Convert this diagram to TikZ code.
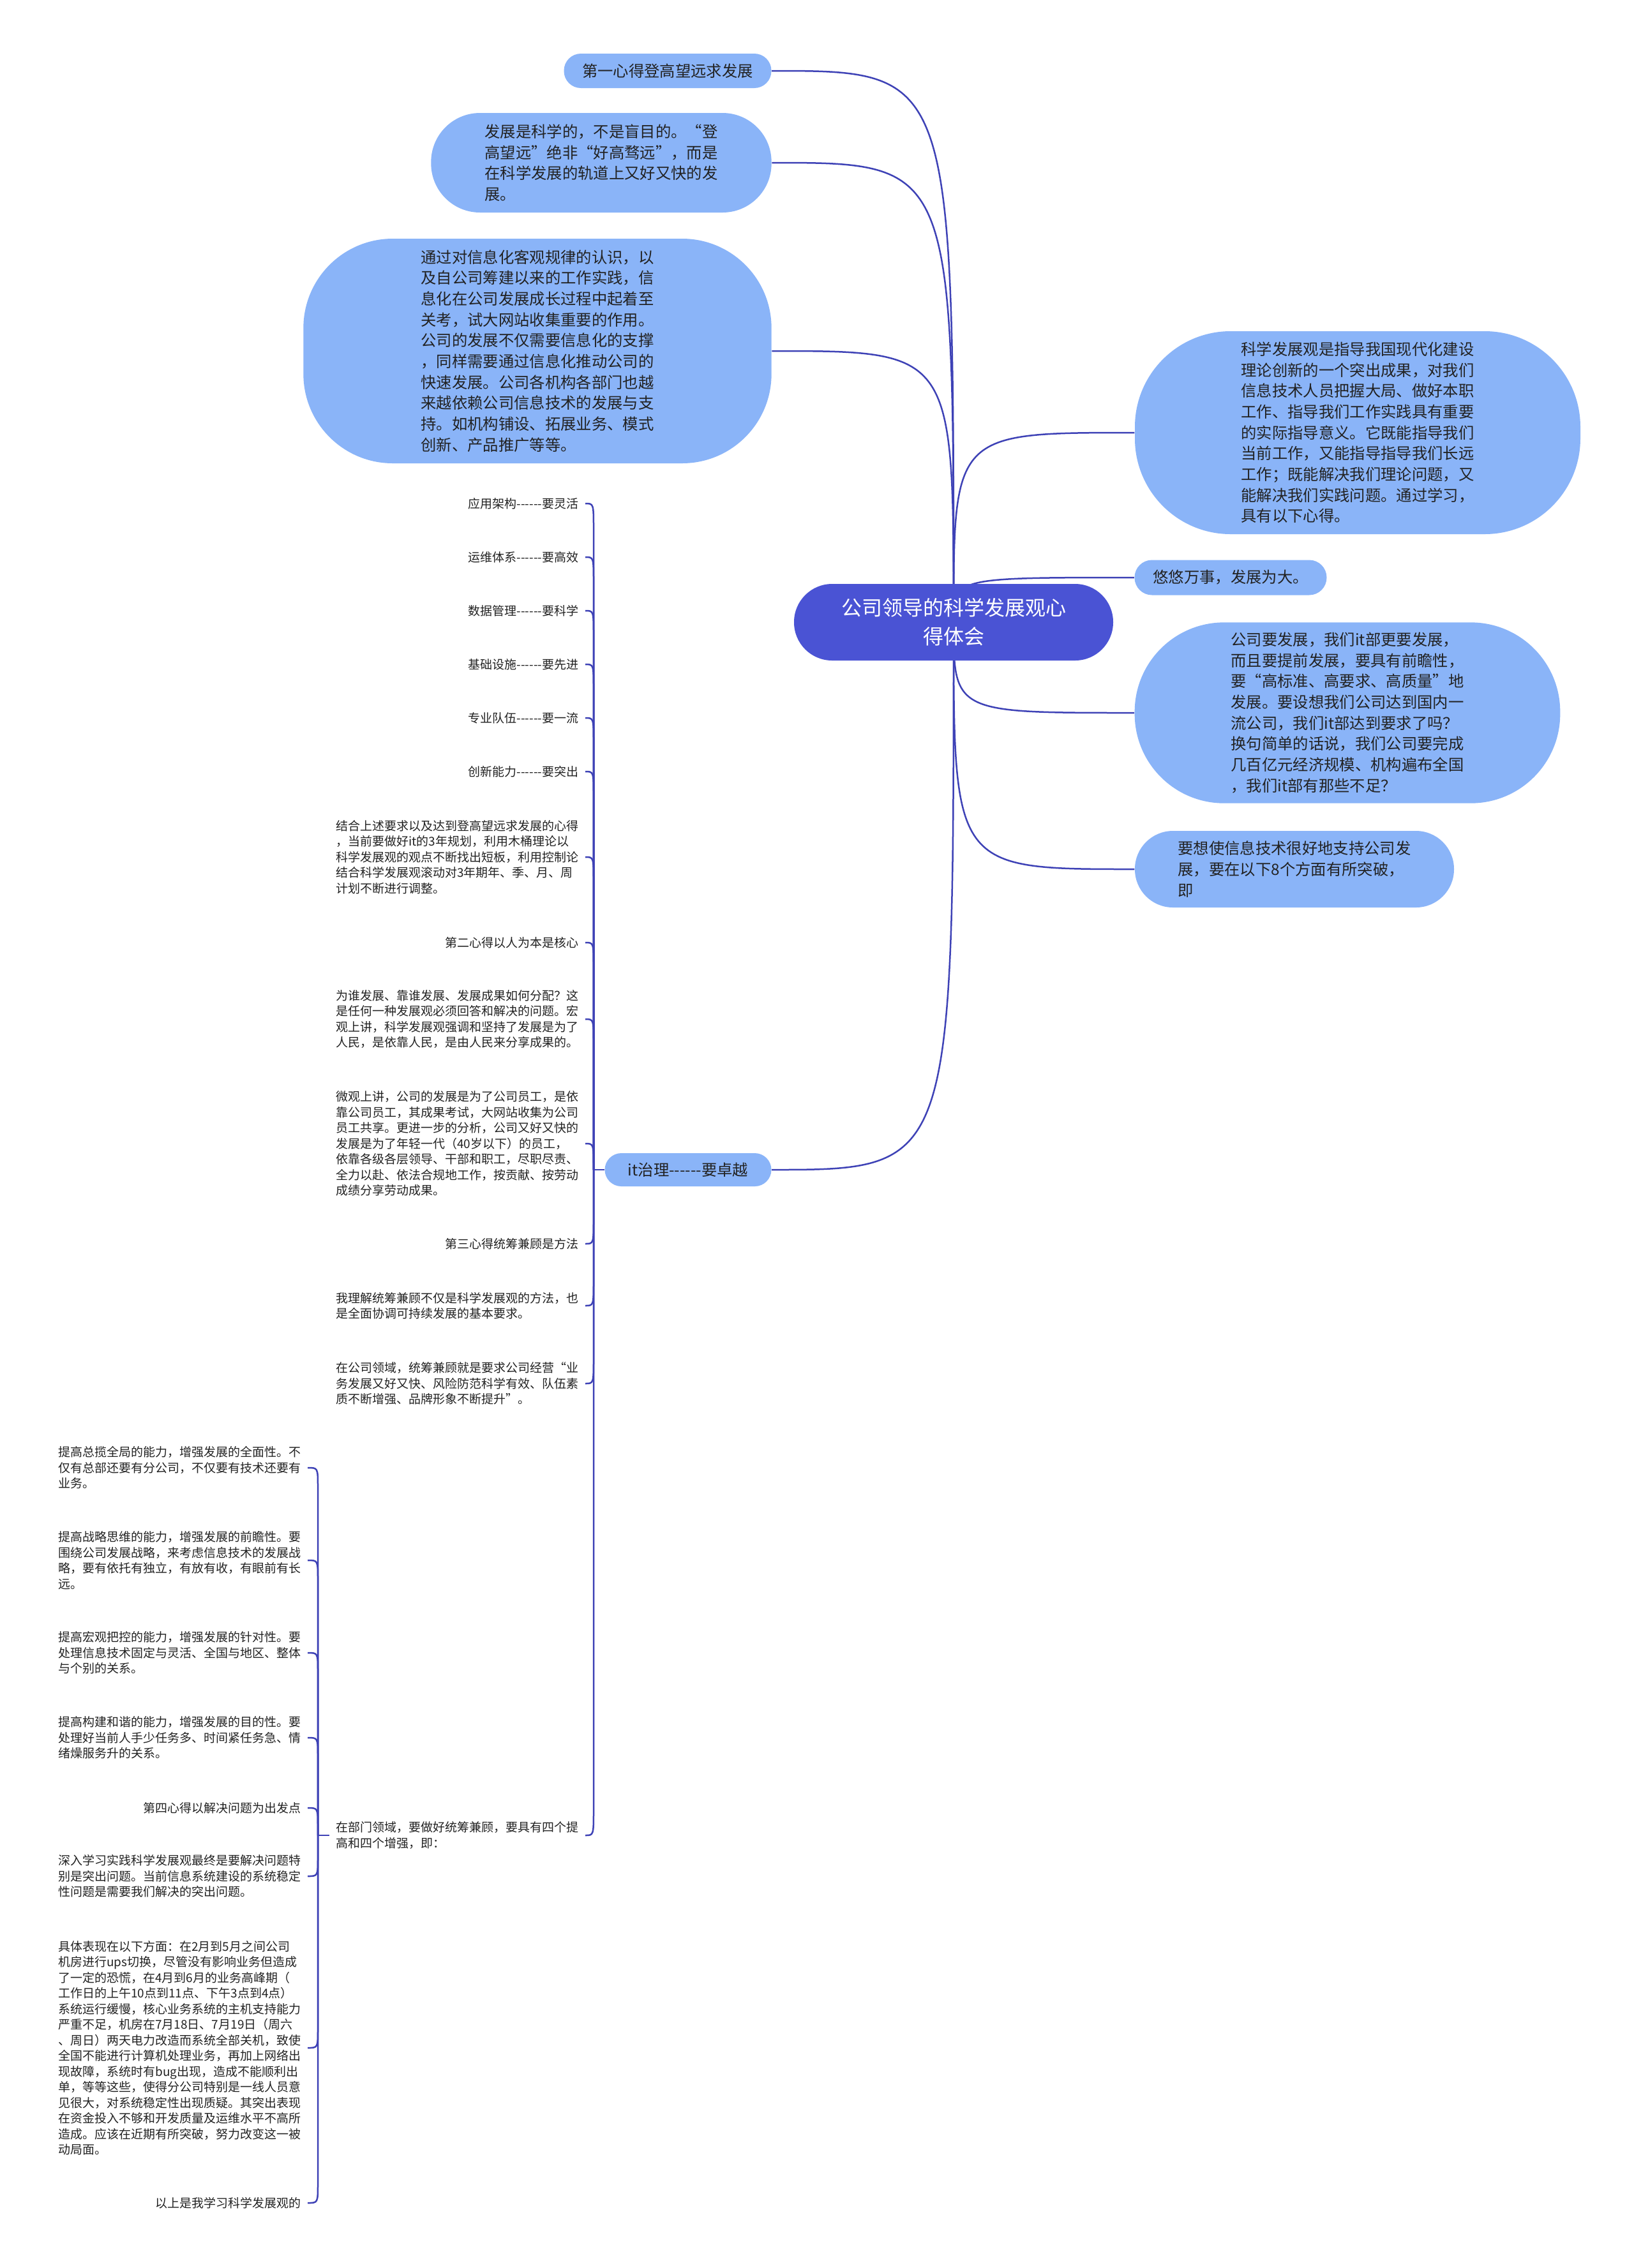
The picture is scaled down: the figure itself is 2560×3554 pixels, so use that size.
\documentclass[tikz,border=0pt]{standalone}
\usepackage{fontspec}
\setmainfont{Noto Sans CJK SC}
\usetikzlibrary{calc,backgrounds}
\definecolor{topicblue}{RGB}{138,180,248}
\definecolor{rootblue}{RGB}{74,83,212}
\definecolor{linkblue}{RGB}{62,66,182}
\definecolor{inkgray}{RGB}{34,34,34}
\newcommand{\dashrun}{-{}-{}-{}-{}-{}-}
\begin{document}
\begin{tikzpicture}[x=0.3pt, y=-0.3pt,
  topic/.style={fill=topicblue, text=inkgray, rounded corners=#1, align=left, inner sep=0pt, font=\fontsize{7.3}{9.8}\selectfont},
  leaf/.style={anchor=east, align=left, inner xsep=3pt, inner ysep=0pt, text=inkgray, font=\fontsize{5.7}{7.35}\selectfont},
  branch/.style={draw=linkblue, line width=0.75pt}]
\useasboundingbox (0,0) rectangle (2560,3554);

% centre
\node[topic=17.9pt, fill=rootblue, text=white, align=center, minimum width=150pt, minimum height=36pt, font=\fontsize{9.6}{13.5}\selectfont] (root) at (1494,975) {公司领导的科学发展观心\\得体会};

% left topics
\node[topic=8pt, minimum width=97.5pt, minimum height=16.2pt] (n1) at (1046,111) {第一心得登高望远求发展};
\node[topic=23pt, minimum width=160pt, minimum height=46.8pt] (n2) at (942,255) {发展是科学的，不是盲目的。“登\\高望远”绝非“好高骛远”，而是\\在科学发展的轨道上又好又快的发\\展。};
\node[topic=42pt, minimum width=220pt, minimum height=105.6pt] (n3) at (842,550) {通过对信息化客观规律的认识，以\\及自公司筹建以来的工作实践，信\\息化在公司发展成长过程中起着至\\关考，试大网站收集重要的作用。\\公司的发展不仅需要信息化的支撑\\，同样需要通过信息化推动公司的\\快速发展。公司各机构各部门也越\\来越依赖公司信息技术的发展与支\\持。如机构铺设、拓展业务、模式\\创新、产品推广等等。};
\node[topic=7.8pt, minimum width=78.3pt, minimum height=15.6pt] (itg) at (1078,1833) {it治理\dashrun 要卓越};

% right topics
\node[topic=45pt, minimum width=209.4pt, minimum height=95.4pt] (r1) at (2127,678) {科学发展观是指导我国现代化建设\\理论创新的一个突出成果，对我们\\信息技术人员把握大局、做好本职\\工作、指导我们工作实践具有重要\\的实际指导意义。它既能指导我们\\当前工作，又能指导指导我们长远\\工作；既能解决我们理论问题，又\\能解决我们实践问题。通过学习，\\具有以下心得。};
\node[topic=8.2pt, minimum width=90.3pt, minimum height=16.5pt] (r2) at (1928,905) {悠悠万事，发展为大。};
\node[topic=42pt, minimum width=200pt, minimum height=85pt] (r3) at (2111,1117) {公司要发展，我们it部更要发展，\\而且要提前发展，要具有前瞻性，\\要“高标准、高要求、高质量”地\\发展。要设想我们公司达到国内一\\流公司，我们it部达到要求了吗？\\换句简单的话说，我们公司要完成\\几百亿元经济规模、机构遍布全国\\，我们it部有那些不足？};
\node[topic=17.9pt, minimum width=150pt, minimum height=36pt] (r4) at (2028,1362) {要想使信息技术很好地支持公司发\\展，要在以下8个方面有所突破，\\即};

% it governance leaves
\coordinate (itj) at (930,1833);
\node[leaf] (a1) at (917,789) {应用架构\dashrun 要灵活};
\node[leaf] (a2) at (917,873) {运维体系\dashrun 要高效};
\node[leaf] (a3) at (917,957) {数据管理\dashrun 要科学};
\node[leaf] (a4) at (917,1041) {基础设施\dashrun 要先进};
\node[leaf] (a5) at (917,1125) {专业队伍\dashrun 要一流};
\node[leaf] (a6) at (917,1209) {创新能力\dashrun 要突出};
\node[leaf] (a7) at (917,1343) {结合上述要求以及达到登高望远求发展的心得\\，当前要做好it的3年规划，利用木桶理论以\\科学发展观的观点不断找出短板，利用控制论\\结合科学发展观滚动对3年期年、季、月、周\\计划不断进行调整。};
\node[leaf] (a8) at (917,1477) {第二心得以人为本是核心};
\node[leaf] (a9) at (917,1597) {为谁发展、靠谁发展、发展成果如何分配？这\\是任何一种发展观必须回答和解决的问题。宏\\观上讲，科学发展观强调和坚持了发展是为了\\人民，是依靠人民，是由人民来分享成果的。};
\node[leaf] (a10) at (917,1792) {微观上讲，公司的发展是为了公司员工，是依\\靠公司员工，其成果考试，大网站收集为公司\\员工共享。更进一步的分析，公司又好又快的\\发展是为了年轻一代（40岁以下）的员工，\\依靠各级各层领导、干部和职工，尽职尽责、\\全力以赴、依法合规地工作，按贡献、按劳动\\成绩分享劳动成果。};
\node[leaf] (a11) at (917,1949) {第三心得统筹兼顾是方法};
\node[leaf] (a12) at (917,2046) {我理解统筹兼顾不仅是科学发展观的方法，也\\是全面协调可持续发展的基本要求。};
\node[leaf] (a13) at (917,2168) {在公司领域，统筹兼顾就是要求公司经营“业\\务发展又好又快、风险防范科学有效、队伍素\\质不断增强、品牌形象不断提升”。};
\node[leaf] (a14) at (917,2876) {在部门领域，要做好统筹兼顾，要具有四个提\\高和四个增强，即：};

% department leaves
\coordinate (dj) at (498,2876);
\node[leaf] (b1) at (482,2300) {提高总揽全局的能力，增强发展的全面性。不\\仅有总部还要有分公司，不仅要有技术还要有\\业务。};
\node[leaf] (b2) at (482,2445) {提高战略思维的能力，增强发展的前瞻性。要\\围绕公司发展战略，来考虑信息技术的发展战\\略，要有依托有独立，有放有收，有眼前有长\\远。};
\node[leaf] (b3) at (482,2590) {提高宏观把控的能力，增强发展的针对性。要\\处理信息技术固定与灵活、全国与地区、整体\\与个别的关系。};
\node[leaf] (b4) at (482,2723) {提高构建和谐的能力，增强发展的目的性。要\\处理好当前人手少任务多、时间紧任务急、情\\绪燥服务升的关系。};
\node[leaf] (b5) at (482,2833) {第四心得以解决问题为出发点};
\node[leaf] (b6) at (482,2940) {深入学习实践科学发展观最终是要解决问题特\\别是突出问题。当前信息系统建设的系统稳定\\性问题是需要我们解决的突出问题。};
\node[leaf] (b7) at (482,3209) {具体表现在以下方面：在2月到5月之间公司\\机房进行ups切换，尽管没有影响业务但造成\\了一定的恐慌，在4月到6月的业务高峰期（\\工作日的上午10点到11点、下午3点到4点）\\系统运行缓慢，核心业务系统的主机支持能力\\严重不足，机房在7月18日、7月19日（周六\\、周日）两天电力改造而系统全部关机，致使\\全国不能进行计算机处理业务，再加上网络出\\现故障，系统时有bug出现，造成不能顺利出\\单，等等这些，使得分公司特别是一线人员意\\见很大，对系统稳定性出现质疑。其突出表现\\在资金投入不够和开发质量及运维水平不高所\\造成。应该在近期有所突破，努力改变这一被\\动局面。};
\node[leaf] (b8) at (482,3452) {以上是我学习科学发展观的};

\begin{pgfonlayer}{background}
\fill[white] (0,0) rectangle (2560,3554);
% links from the centre
\foreach \t in {n1,n2,n3,itg}
  \draw[branch] (root.center) .. controls (root.center |- \t.east) .. (\t.east);
\foreach \t in {r1,r2,r3,r4}
  \draw[branch] (root.center) .. controls (root.center |- \t.west) .. (\t.west);
% brackets
\draw[branch] (itg.west) -- (itj);
\foreach \l/\s in {a1/1,a2/1,a3/1,a4/1,a5/1,a6/1,a7/1,a8/1,a9/1,a10/1,a11/-1,a12/-1,a13/-1,a14/-1}
  \draw[branch] (itj) -- ($(itj |- \l.east)+(0,40*\s)$) .. controls (itj |- \l.east) .. (\l.east);
\draw[branch] (a14.west) -- (dj);
\foreach \l/\s in {b1/1,b2/1,b3/1,b4/1,b5/1,b6/-1,b7/-1,b8/-1}
  \draw[branch] (dj) -- ($(dj |- \l.east)+(0,30*\s)$) .. controls (dj |- \l.east) .. (\l.east);
\end{pgfonlayer}
\end{tikzpicture}
\end{document}
